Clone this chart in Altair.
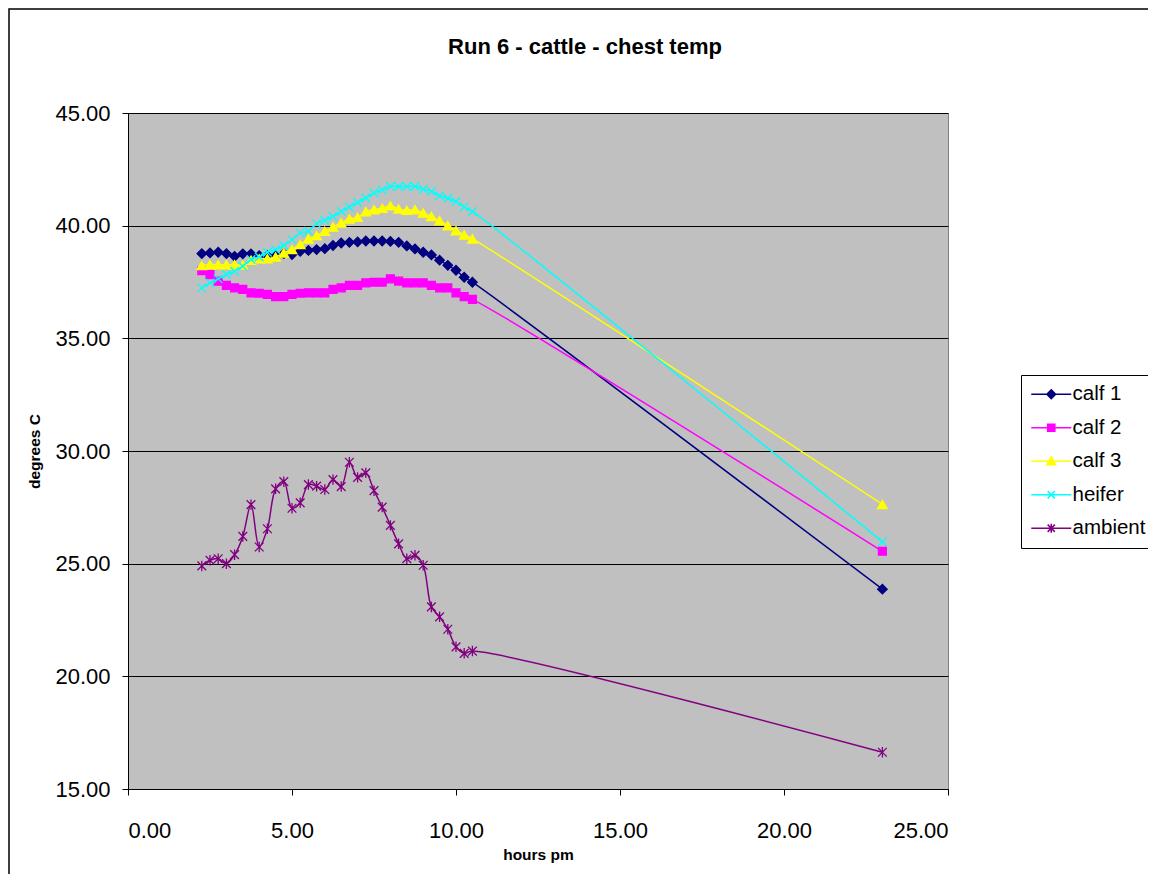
import altair as alt
import pandas as pd

# ---------------- data ----------------
hours = [2.25, 2.5, 2.75, 3.0, 3.25, 3.5, 3.75, 4.0, 4.25, 4.5, 4.75, 5.0,
         5.25, 5.5, 5.75, 6.0, 6.25, 6.5, 6.75, 7.0, 7.25, 7.5, 7.75, 8.0,
         8.25, 8.5, 8.75, 9.0, 9.25, 9.5, 9.75, 10.0, 10.25, 10.5, 23.0]

calf1 = [38.76, 38.79, 38.82, 38.76, 38.64, 38.75, 38.75, 38.67, 38.67, 38.67,
         38.76, 38.72, 38.86, 38.90, 38.94, 38.98, 39.12, 39.23, 39.26, 39.28,
         39.32, 39.32, 39.32, 39.30, 39.26, 39.10, 38.97, 38.82, 38.70, 38.47,
         38.24, 38.02, 37.71, 37.49, 23.87]

calf2 = [38.00, 37.83, 37.54, 37.35, 37.24, 37.17, 37.02, 37.00, 36.95, 36.85,
         36.85, 36.95, 37.00, 37.02, 37.02, 37.02, 37.17, 37.24, 37.35, 37.35,
         37.46, 37.49, 37.49, 37.64, 37.54, 37.46, 37.46, 37.46, 37.35, 37.24,
         37.24, 37.02, 36.85, 36.73, 25.55]

calf3 = [38.23, 38.27, 38.27, 38.27, 38.27, 38.25, 38.47, 38.53, 38.53, 38.61,
         38.79, 38.94, 39.16, 39.41, 39.56, 39.75, 39.94, 40.12, 40.30, 40.37,
         40.62, 40.71, 40.77, 40.88, 40.74, 40.68, 40.71, 40.56, 40.41, 40.22,
         40.00, 39.78, 39.59, 39.41, 27.63]

heifer = [37.24, 37.46, 37.64, 37.83, 37.98, 38.20, 38.50, 38.61, 38.82, 38.94,
          39.12, 39.38, 39.68, 39.75, 40.09, 40.24, 40.41, 40.63, 40.83, 41.03,
          41.23, 41.45, 41.59, 41.74, 41.74, 41.74, 41.74, 41.62, 41.52, 41.33,
          41.22, 41.07, 40.83, 40.63, 25.97]

ambient = [24.90, 25.15, 25.22, 25.00, 25.40, 26.21, 27.62, 25.74, 26.55, 28.32,
           28.64, 27.46, 27.70, 28.51, 28.44, 28.29, 28.73, 28.42, 29.50, 28.83,
           29.03, 28.24, 27.51, 26.70, 25.88, 25.22, 25.37, 24.93, 23.08, 22.64,
           22.09, 21.31, 21.02, 21.12, 16.63]

series_names = ["calf 1", "calf 2", "calf 3", "heifer", "ambient"]
series_values = [calf1, calf2, calf3, heifer, ambient]

x_ticks = [0, 5, 10, 15, 20, 25]
y_ticks = [15, 20, 25, 30, 35, 40, 45]

TITLE = "Run 6 - cattle - chest temp"
X_TITLE = "hours pm"
Y_TITLE = "degrees C"

# ---------------- styles ----------------
colors = ["#000080", "#FF00FF", "#FFFF00", "#00FFFF", "#800080"]
X_PATH = "M-1,-1L1,1M-1,1L1,-1"
ASTER_PATH = "M-1,-1L1,1M-1,1L1,-1M0,-1.2L0,1.2"
marker_shapes = ["diamond", "square", "triangle-up", X_PATH, ASTER_PATH]
marker_sizes = [90, 62, 90, 72, 76]
legend_shapes = [
    "M-2.5,0L2.5,0M0,-0.55L0.55,0L0,0.55L-0.55,0Z",
    "M-2.5,0L2.5,0M-0.45,-0.45L0.45,-0.45L0.45,0.45L-0.45,0.45Z",
    "M-2.5,0L2.5,0M0,-0.55L0.55,0.45L-0.55,0.45Z",
    "M-2.5,0L2.5,0M-0.45,-0.45L0.45,0.45M-0.45,0.45L0.45,-0.45",
    "M-2.5,0L2.5,0M-0.45,-0.45L0.45,0.45M-0.45,0.45L0.45,-0.45M0,-0.55L0,0.55",
]
FONT = "Liberation Sans"

rows = []
for name, vals in zip(series_names, series_values):
    for h, v in zip(hours, vals):
        rows.append({"hours": h, "temp": v, "series": name})
df = pd.DataFrame(rows)

x_enc = alt.X(
    "hours:Q",
    scale=alt.Scale(domain=[0, 25], nice=False, zero=False),
    axis=alt.Axis(values=x_ticks, format=".2f", title=X_TITLE, grid=False,
                  labelFontSize=22, labelFont=FONT, labelColor="black",
                  tickSize=6, tickColor="black", domainColor="black",
                  labelPadding=25, titleFontSize=15.5, titleFont=FONT,
                  titleFontWeight="bold", titleColor="black",
                  titleY=70, titleBaseline="alphabetic"),
)
y_enc = alt.Y(
    "temp:Q",
    scale=alt.Scale(domain=[15, 45], nice=False, zero=False),
    axis=alt.Axis(values=y_ticks, format=".2f", title=Y_TITLE, grid=True,
                  gridColor="black", gridWidth=1,
                  labelFontSize=22, labelFont=FONT, labelColor="black",
                  tickSize=6, tickColor="black", domainColor="black",
                  labelPadding=12, titleFontSize=15.5, titleFont=FONT,
                  titleFontWeight="bold", titleColor="black",
                  titleX=-89, titleY=338, titleBaseline="alphabetic",
                  titleAlign="center"),
)

layers = []

# outer chart frame
frame = alt.Chart(pd.DataFrame({"f": [0]})).mark_rect(
    fill="white", fillOpacity=0, stroke="black", strokeWidth=1.5
).encode(x=alt.value(-119), x2=alt.value(1100), y=alt.value(-104), y2=alt.value(900))
layers.append(frame)

for name, col, shp, sz in zip(series_names, colors, marker_shapes, marker_sizes):
    base = alt.Chart(df).transform_filter(alt.datum.series == name)
    line = base.mark_line(color=col, strokeWidth=1.5, interpolate="catmull-rom").encode(
        x=x_enc, y=y_enc)
    pts = base.mark_point(shape=shp, size=sz, filled=True, fill=col, stroke=col,
                          strokeWidth=1.3, opacity=1).encode(x=x_enc, y=y_enc)
    layers += [line, pts]

leg = alt.Legend(orient="none", legendX=893, legendY=262, title=None,
                 symbolSize=256, symbolStrokeWidth=1.5, symbolOffset=11,
                 labelOffset=11, labelFontSize=20.5, labelFont=FONT,
                 labelColor="black", labelLimit=300, rowPadding=12.5,
                 padding=9, strokeColor="black", fillColor="white")

legend_layer = alt.Chart(df).transform_filter(alt.datum.series == "__none__").mark_point(
    opacity=1, strokeWidth=1.5
).encode(
    x=x_enc, y=y_enc,
    fill=alt.Fill("series:N", scale=alt.Scale(domain=series_names, range=colors), legend=leg),
    stroke=alt.Stroke("series:N", scale=alt.Scale(domain=series_names, range=colors), legend=leg),
    shape=alt.Shape("series:N", scale=alt.Scale(domain=series_names, range=legend_shapes), legend=leg),
)
layers.append(legend_layer)

chart = alt.layer(*layers).properties(
    width=820, height=676,
    autosize=alt.AutoSizeParams(type="none"),
    padding={"left": 120, "top": 105, "right": 200, "bottom": 85},
    title=alt.TitleParams(TITLE, fontSize=22, font=FONT, fontWeight="bold",
                          anchor="middle", frame="group", dx=47, offset=-67.5,
                          baseline="alphabetic", color="black"),
).configure_view(fill="#C0C0C0", stroke="#808080", strokeWidth=1)

chart.save("out.html", embed_options={"renderer": "svg", "actions": False})
